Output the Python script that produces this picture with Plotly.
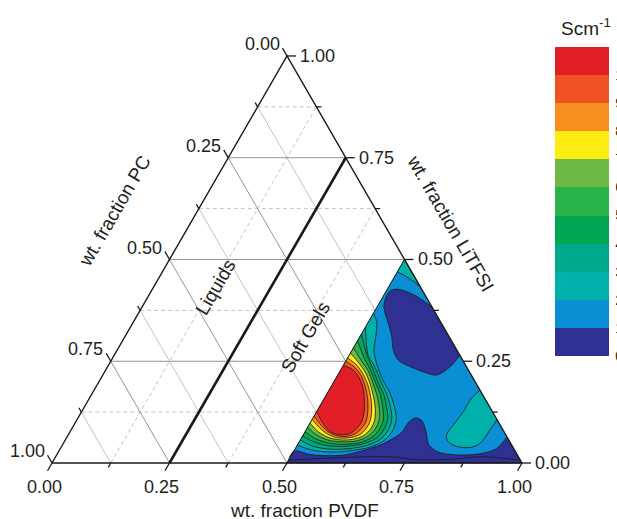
import math
import plotly.graph_objects as go

# ---------------- data ----------------
tick_values = [0.0, 0.125, 0.25, 0.375, 0.5, 0.625, 0.75, 0.875, 1.0]
major_values = [0.0, 0.25, 0.5, 0.75, 1.0]
tick_labels = ["0.00", "0.25", "0.50", "0.75", "1.00"]

title_pvdf = "wt. fraction PVDF"
title_pc = "wt. fraction PC"
title_litfsi = "wt. fraction LiTFSI"
region_labels = ["Liquids", "Soft Gels"]
liquid_gel_boundary_pvdf = 0.25
measured_region_min_pvdf = 0.5

# band colours, lowest conductivity -> highest
level_colors = ["#2E3192", "#0A8FD5", "#00B1AB", "#00A98B", "#00A651", "#2AB24A",
                "#6DB945", "#FFEC12", "#F78F1E", "#F05323", "#E21F26"]
colorbar_tickvals = [0, 1, 2, 3, 4, 5, 6, 7, 8, 9, 10]
colorbar_ticktext = ["0", "1", "2", "3", "4", "5", "6", "7", "8", "9", "10"]
colorbar_title = "Scm<sup>-1</sup>"

dark_island = [(0.619, 0.381), (0.602, 0.392), (0.572, 0.409), (0.544, 0.421), (0.520, 0.427),
               (0.508, 0.423), (0.507, 0.408), (0.514, 0.384), (0.544, 0.343), (0.568, 0.310),
               (0.587, 0.278), (0.610, 0.253), (0.643, 0.237), (0.678, 0.224), (0.710, 0.216),
               (0.729, 0.237), (0.735, 0.265)]
dark_bottom = [(0.936, 0.064), (0.927, 0.034), (0.895, 0.022), (0.848, 0.020), (0.808, 0.027),
               (0.780, 0.044), (0.758, 0.076), (0.736, 0.103), (0.719, 0.111), (0.709, 0.101),
               (0.707, 0.076), (0.694, 0.059), (0.676, 0.044), (0.650, 0.032), (0.614, 0.020),
               (0.572, 0.018), (0.538, 0.021), (0.500, 0.0295)]
teal_apex = [(0.500, 0.469), (0.515, 0.463), (0.530, 0.455), (0.550, 0.444), (0.568, 0.432)]
teal_right = [(0.821, 0.179), (0.813, 0.159), (0.812, 0.126), (0.807, 0.093), (0.805, 0.069),
              (0.817, 0.052), (0.844, 0.040), (0.874, 0.039), (0.888, 0.052), (0.891, 0.081),
              (0.894, 0.106)]
level2 = [(0.500, 0.368), (0.518, 0.346), (0.532, 0.315), (0.546, 0.278), (0.571, 0.241),
          (0.602, 0.204), (0.633, 0.172), (0.656, 0.143), (0.677, 0.111), (0.685, 0.081),
          (0.680, 0.057), (0.657, 0.039), (0.619, 0.030), (0.578, 0.027), (0.537, 0.032),
          (0.500, 0.044)]
level3 = [(0.5, 0.334), (0.540, 0.265), (0.568, 0.237), (0.598, 0.202), (0.627, 0.170),
          (0.649, 0.141), (0.668, 0.110), (0.675, 0.082), (0.670, 0.059), (0.648, 0.043),
          (0.612, 0.035), (0.574, 0.034), (0.535, 0.041), (0.5, 0.0565)]
level4 = [(0.5, 0.317), (0.540, 0.262), (0.565, 0.234), (0.593, 0.200), (0.622, 0.168),
          (0.642, 0.139), (0.660, 0.109), (0.665, 0.082), (0.660, 0.061), (0.638, 0.047),
          (0.605, 0.041), (0.569, 0.042), (0.533, 0.051), (0.5, 0.066)]
level5 = [(0.5, 0.300), (0.537, 0.256), (0.562, 0.230), (0.589, 0.198), (0.616, 0.166),
          (0.635, 0.137), (0.651, 0.108), (0.655, 0.083), (0.649, 0.063), (0.629, 0.050),
          (0.598, 0.046), (0.565, 0.049), (0.530, 0.060), (0.5, 0.077)]
level6 = [(0.5, 0.283), (0.534, 0.250), (0.559, 0.227), (0.585, 0.196), (0.610, 0.164),
          (0.629, 0.135), (0.643, 0.107), (0.646, 0.083), (0.639, 0.065), (0.620, 0.054),
          (0.591, 0.052), (0.560, 0.056), (0.528, 0.069), (0.5, 0.088)]
level7 = [(0.5, 0.270), (0.532, 0.244), (0.555, 0.223), (0.580, 0.194), (0.604, 0.161),
          (0.622, 0.132), (0.634, 0.105), (0.636, 0.084), (0.629, 0.067), (0.610, 0.058),
          (0.583, 0.057), (0.556, 0.063), (0.526, 0.078), (0.5, 0.098)]
level8 = [(0.5, 0.258), (0.530, 0.239), (0.552, 0.219), (0.576, 0.192), (0.599, 0.159),
          (0.615, 0.130), (0.625, 0.104), (0.626, 0.084), (0.619, 0.069), (0.601, 0.062),
          (0.576, 0.062), (0.551, 0.071), (0.524, 0.088), (0.5, 0.107)]
level9 = [(0.5, 0.250), (0.528, 0.234), (0.549, 0.216), (0.571, 0.190), (0.593, 0.157),
          (0.608, 0.128), (0.617, 0.103), (0.616, 0.085), (0.608, 0.071), (0.591, 0.065),
          (0.569, 0.068), (0.547, 0.078), (0.521, 0.097), (0.5, 0.115)]
level10 = [(0.500, 0.240), (0.526, 0.229), (0.546, 0.212), (0.567, 0.188), (0.587, 0.155),
           (0.601, 0.126), (0.608, 0.102), (0.606, 0.085), (0.598, 0.073), (0.582, 0.069),
           (0.562, 0.073), (0.542, 0.085), (0.519, 0.106), (0.500, 0.126)]
low_line = [(0.5, 0.007), (0.585, 0.012), (0.707, 0.0155), (0.768, 0.0086), (0.807, 0.0074),
            (0.8625, 0.011), (0.909, 0.0155), (0.994, 0.006)]

# ---------------- geometry helpers ----------------
SQ = math.sqrt(3) / 2
X0, Y0, S = 52.0, 463.0, 470.0   # pixel calibration of the drawing
W, H = 617, 519
TXT = "#231F20"
FONT = "Liberation Sans, Arial, Helvetica, sans-serif"


def proj(pvdf, lit):
    return pvdf + lit / 2.0, lit * SQ


def xy(pairs):
    xs, ys = [], []
    for p in pairs:
        if p is None:
            xs.append(None); ys.append(None)
        else:
            a, b = proj(*p)
            xs.append(a); ys.append(b)
    return xs, ys


def pdata(X, Y):
    return (X - X0) / S, (Y0 - Y) / S


fig = go.Figure()


def add_lines(pairs, color, width, dash="solid", shape="linear"):
    xs, ys = xy(pairs)
    fig.add_trace(go.Scatter(x=xs, y=ys, mode="lines", hoverinfo="skip", showlegend=False,
                             line=dict(color=color, width=width, dash=dash, shape=shape)))


def add_fill(pairs, color, shape="spline", line_w=0.8):
    xs, ys = xy(pairs)
    fig.add_trace(go.Scatter(x=xs, y=ys, mode="lines", fill="toself", fillcolor=color,
                             hoverinfo="skip", showlegend=False,
                             line=dict(color="#1A1A1A", width=line_w, shape=shape, smoothing=0.9)))


# ---------------- grid ----------------
grid_major, grid_minor_solid, grid_minor_dash = [], [], []
for v in tick_values[1:-1]:
    is_major = v in major_values
    litl = [(0.0, v), (1 - v, v), None]            # constant LiTFSI
    pcl = [(0.0, 1 - v), (1 - v, 0.0), None]       # constant PC
    pvl = [(v, 0.0), (v, 1 - v), None]             # constant PVDF
    if is_major:
        grid_major += litl + pcl
        if v > liquid_gel_boundary_pvdf + 1e-9:
            grid_major += pvl
    else:
        grid_minor_solid += pcl
        grid_minor_dash += litl + pvl
add_lines(grid_minor_solid, "#C4C4C4", 1.0)
add_lines(grid_minor_dash, "#C4C4C4", 1.0, dash="4px,3px")
add_lines(grid_major, "#959595", 1.0)

# ---------------- conductivity map ----------------
m = measured_region_min_pvdf
add_fill([(m, 0.0), (1.0, 0.0), (m, 1 - m)], level_colors[1], shape="linear", line_w=0)
add_fill(dark_island, level_colors[0])
add_fill(dark_bottom + [(m, 0.003), (m, 0.0), (m + 0.003, 0.0), (1.0, 0.0)], level_colors[0])
add_fill(teal_apex + [(m, 1 - m)], level_colors[2], shape="linear")
add_fill(teal_right, level_colors[2])
for k, lev in zip(range(2, 11), [level2, level3, level4, level5, level6, level7, level8, level9, level10]):
    add_fill(lev, level_colors[k])
add_lines(low_line, "#1A1A1A", 0.8, shape="spline")

# sub-region outline
add_lines([(m, 0.0), (m, 1 - m)], "#1A1A1A", 1.0)

# ---------------- frame ----------------
add_lines([(0.0, 0.0), (1.0, 0.0), (0.0, 1.0), (0.0, 0.0)], "#1A1A1A", 1.4)
add_lines([(liquid_gel_boundary_pvdf, 0.0), (liquid_gel_boundary_pvdf, 1 - liquid_gel_boundary_pvdf)],
          "#1A1A1A", 2.6)

# ticks
tx, ty = [], []
for v in tick_values:
    L = (9.0 if v in major_values else 5.0) / S
    bx, by = proj(0.0, 1 - v)          # left axis (PC), tick up-left
    tx += [bx, bx - 0.5 * L, None]; ty += [by, by + SQ * L, None]
    bx, by = proj(v, 0.0)              # bottom axis (PVDF), tick down-left
    tx += [bx, bx - 0.5 * L, None]; ty += [by, by - SQ * L, None]
    bx, by = proj(1 - v, v)            # right axis (LiTFSI), tick right
    tx += [bx, bx + L, None]; ty += [by, by, None]
fig.add_trace(go.Scatter(x=tx, y=ty, mode="lines", hoverinfo="skip", showlegend=False,
                         line=dict(color="#1A1A1A", width=1.3)))

# ---------------- colour bar (via a hidden marker) ----------------
n = len(level_colors)
cscale = []
for i, c in enumerate(level_colors):
    cscale += [[i / n, c], [(i + 1) / n, c]]
fig.add_trace(go.Scatter(
    x=[0.5], y=[0.2], mode="markers", hoverinfo="skip", showlegend=False,
    marker=dict(size=1, opacity=0, color=[0], colorscale=cscale, cmin=0, cmax=n, showscale=True,
                colorbar=dict(thickness=54, thicknessmode="pixels", len=309, lenmode="pixels",
                              x=555 / W, xanchor="left", y=1 - 201.5 / H, yanchor="middle",
                              xpad=0, ypad=0, outlinewidth=0,
                              ticks="outside", ticklen=4, tickcolor="rgba(0,0,0,0)",
                              tickvals=colorbar_tickvals, ticktext=colorbar_ticktext,
                              tickfont=dict(size=14, color=TXT, family=FONT)))))

# ---------------- text ----------------
ann = []
tf = dict(size=18, color=TXT, family=FONT)
for v, lab in zip(major_values, tick_labels):
    L = 9.0 / S
    bx, by = proj(0.0, 1 - v)
    ann.append(dict(x=bx - 0.5 * L, y=by + SQ * L, text=lab, showarrow=False, xanchor="right",
                    yanchor="middle", xshift=-1, yshift=4, font=tf))
    bx, by = proj(v, 0.0)
    ann.append(dict(x=bx - 0.5 * L, y=by - SQ * L, text=lab, showarrow=False, xanchor="center",
                    yanchor="middle", xshift=-3.5, yshift=-16, font=tf))
    bx, by = proj(1 - v, v)
    ann.append(dict(x=bx + L, y=by, text=lab, showarrow=False, xanchor="left",
                    yanchor="middle", xshift=2, yshift=0, font=tf))

ttf = dict(size=19, color=TXT, family=FONT)
for text, (X, Y), ang in [(title_pvdf, (304, 510), 0), (title_pc, (114, 211), -60),
                          (title_litfsi, (451, 223), 60), (region_labels[0], (215, 287), -60),
                          (region_labels[1], (305, 337), -60)]:
    x, y = pdata(X, Y)
    ann.append(dict(x=x, y=y, text=text, showarrow=False, textangle=ang, xanchor="center",
                    yanchor="middle", font=ttf))
ann.append(dict(x=586 / W, y=1 - 27 / H, xref="paper", yref="paper", text=colorbar_title,
                showarrow=False, xanchor="center", yanchor="middle", font=ttf))

xr = [(0 - X0) / S, (W - X0) / S]
yr = [(Y0 - H) / S, (Y0 - 0) / S]
fig.update_layout(
    width=W, height=H, margin=dict(l=0, r=0, t=0, b=0, autoexpand=False),
    paper_bgcolor="white", plot_bgcolor="white", showlegend=False,
    xaxis=dict(range=xr, visible=False, fixedrange=True),
    yaxis=dict(range=yr, visible=False, fixedrange=True),
    annotations=ann,
)
fig.write_html("out.html")
